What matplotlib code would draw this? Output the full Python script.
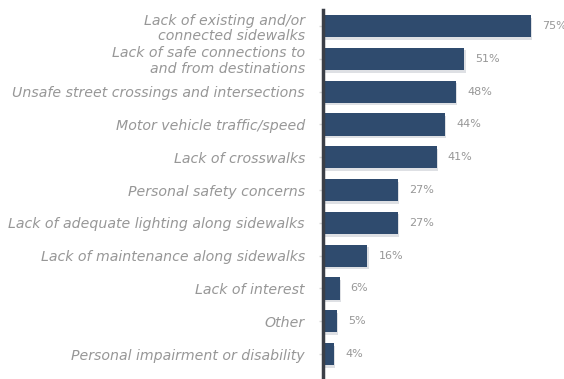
import matplotlib
matplotlib.use("Agg")
import matplotlib.pyplot as plt

# survey responses: barriers to walking, share of respondents (%)
barriers = [
    "Lack of existing and/or\nconnected sidewalks",
    "Lack of safe connections to\nand from destinations",
    "Unsafe street crossings and intersections",
    "Motor vehicle traffic/speed",
    "Lack of crosswalks",
    "Personal safety concerns",
    "Lack of adequate lighting along sidewalks",
    "Lack of maintenance along sidewalks",
    "Lack of interest",
    "Other",
    "Personal impairment or disability",
]
shares = [75, 51, 48, 44, 41, 27, 27, 16, 6, 5, 4]

BAR = "#2f4b6e"
TXT = "#979797"

fig = plt.figure(figsize=(5.64, 3.79), dpi=100)
ax = fig.add_axes([323 / 564, 0, 1 - 323 / 564, 369 / 379])

ypos = list(range(len(shares)))
# soft drop shadow behind each bar
ax.barh([y + 0.08 for y in ypos], [s + 0.5 for s in shares], height=0.68,
        color="#c9ccd2", alpha=0.6, zorder=1)
ax.barh(ypos, shares, height=0.68, color=BAR, zorder=2)

for y, s in zip(ypos, shares):
    ax.text(s + 4, y, f"{s}%", va="center", ha="left", fontsize=8,
            color=TXT, clip_on=False)

ax.set_xlim(0, 87)
ax.set_ylim(10.76, -0.49)
ax.set_yticks(ypos)
ax.set_yticklabels(barriers, fontsize=10.2, style="italic", color=TXT,
                   linespacing=1.15)
ax.tick_params(axis="y", length=3, width=1, color="#d9d9d9", pad=10)
ax.set_xticks([])

for side in ("top", "right", "bottom"):
    ax.spines[side].set_visible(False)
ax.spines["left"].set_color("#3b3f47")
ax.spines["left"].set_linewidth(2.5)

fig.savefig("out.png", dpi=100)
